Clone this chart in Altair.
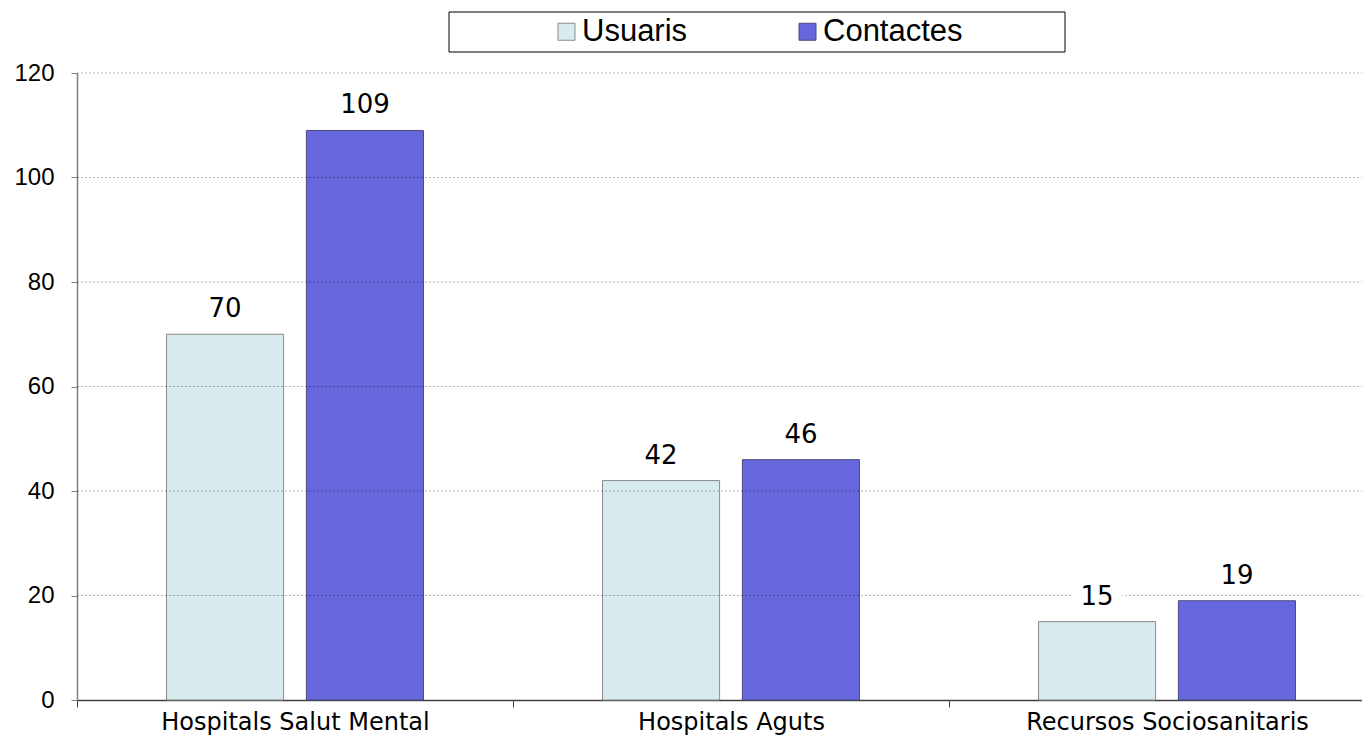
import altair as alt
import pandas as pd

categories = ["Hospitals Salut Mental", "Hospitals Aguts", "Recursos Sociosanitaris"]
series = ["Usuaris", "Contactes"]
usuaris = [70, 42, 15]
contactes = [109, 46, 19]
y_ticks = [0, 20, 40, 60, 80, 100, 120]
grid_values = [20, 40, 60, 80, 100, 120]

rows = []
for c, u, k in zip(categories, usuaris, contactes):
    rows.append({"cat": c, "serie": "Usuaris", "value": u})
    rows.append({"cat": c, "serie": "Contactes", "value": k})
df = pd.DataFrame(rows)
grid_df = pd.DataFrame({"v": grid_values})
box_df = pd.DataFrame({"k": [1]})

fill_colors = ["#D7EBEE", "#6666DD"]
stroke_colors = ["#8a8a8a", "#4a4a7a"]

x_enc = alt.X(
    "cat:N",
    sort=categories,
    scale=alt.Scale(domain=categories, range=[0, 1308], paddingInner=0, paddingOuter=0),
    axis=alt.Axis(
        title=None,
        labelFont="DejaVu Sans",
        labelFontSize=24,
        labelColor="black",
        labelAngle=0,
        labelLimit=0,
        labelBaseline="alphabetic",
        labelPadding=22,
        tickBand="extent",
        tickSize=7,
        tickColor="#404040",
        domainColor="#404040",
        domainWidth=1.5,
        grid=False,
    ),
)
xoff_enc = alt.XOffset(
    "serie:N",
    sort=series,
    scale=alt.Scale(domain=series, paddingInner=0.163, paddingOuter=0.64),
)
y_scale = alt.Scale(domain=[0, 120], nice=False)
y_enc = alt.Y(
    "value:Q",
    scale=y_scale,
    axis=alt.Axis(
        title=None,
        values=y_ticks,
        labelFont="Liberation Sans",
        labelFontSize=24,
        labelColor="black",
        labelPadding=17,
        tickSize=6,
        tickColor="#808080",
        domainColor="#808080",
        domainWidth=1.5,
        grid=False,
    ),
)

bars = alt.Chart(df).mark_bar(strokeWidth=1).encode(
    x=x_enc,
    xOffset=xoff_enc,
    y=y_enc,
    color=alt.Color(
        "serie:N",
        sort=series,
        scale=alt.Scale(domain=series, range=fill_colors),
        legend=alt.Legend(
            title=None,
            orient="none",
            legendX=474,
            legendY=-57,
            direction="horizontal",
            padding=0,
            symbolType="square",
            symbolSize=289,
            symbolStrokeColor="#555555",
            symbolStrokeWidth=1,
            labelFont="Liberation Sans",
            labelFontSize=31,
            labelColor="black",
            labelOffset=0,
            columnPadding=104,
        ),
    ),
    stroke=alt.Stroke("serie:N", sort=series, scale=alt.Scale(domain=series, range=stroke_colors), legend=None),
    fillOpacity=alt.value(1),
)

grid = alt.Chart(grid_df).mark_rule(
    color="black", opacity=0.3, strokeDash=[2, 2], strokeWidth=1
).encode(
    y=alt.Y("v:Q", scale=y_scale, title=None),
    x=alt.value(0),
    x2=alt.value(1293),
)

label_bg = alt.Chart(df).mark_bar(
    width=50, color="white", yOffset=-37, y2Offset=-15
).encode(
    x=x_enc,
    xOffset=xoff_enc,
    y=alt.Y("value:Q", scale=y_scale, title=None),
    y2=alt.Y2("value"),
)

labels = alt.Chart(df).mark_text(
    font="DejaVu Sans", fontSize=26, color="black", baseline="alphabetic", dy=-17
).encode(
    x=x_enc,
    xOffset=xoff_enc,
    y=alt.Y("value:Q", scale=y_scale, title=None),
    text=alt.Text("value:Q"),
)

legend_box = alt.Chart(box_df).mark_rect(
    fill="white", stroke="black", strokeWidth=1
).encode(
    x=alt.value(372),
    x2=alt.value(988),
    y=alt.value(-61),
    y2=alt.value(-21),
)

chart = alt.layer(legend_box, bars, grid, label_bg, labels).properties(
    width=1285,
    height=627,
    autosize=alt.AutoSizeParams(type="none"),
    padding={"left": 69, "top": 65, "right": 0, "bottom": 36},
).configure_view(stroke=None).resolve_scale(y="shared")

chart.save("out.html", embed_options={"renderer": "svg", "actions": False})
